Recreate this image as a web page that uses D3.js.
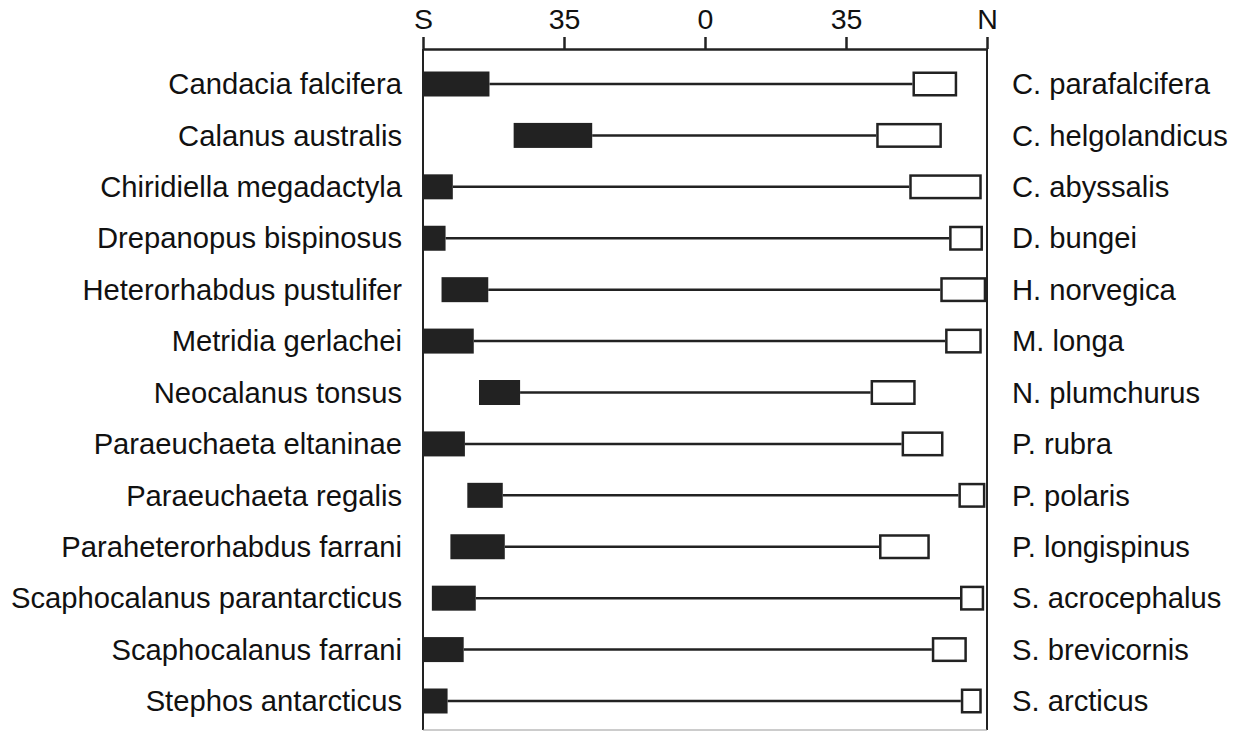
<!DOCTYPE html>
<html>
<head>
<meta charset="utf-8">
<script src="https://cdn.jsdelivr.net/npm/d3@7"></script>
<style>
  html, body { margin: 0; padding: 0; background: #fff; }
  svg { display: block; }
  text { font-family: Arial, "Liberation Sans", sans-serif; fill: #111; }
</style>
</head>
<body>
<svg id="chart" width="1236" height="731"></svg>
<script>
// ---- Data ----
const southSpecies = ["Candacia falcifera", "Calanus australis", "Chiridiella megadactyla", "Drepanopus bispinosus",
  "Heterorhabdus pustulifer", "Metridia gerlachei", "Neocalanus tonsus", "Paraeuchaeta eltaninae",
  "Paraeuchaeta regalis", "Paraheterorhabdus farrani", "Scaphocalanus parantarcticus", "Scaphocalanus farrani",
  "Stephos antarcticus"];
const northSpecies = ["C. parafalcifera", "C. helgolandicus", "C. abyssalis", "D. bungei", "H. norvegica", "M. longa",
  "N. plumchurus", "P. rubra", "P. polaris", "P. longispinus", "S. acrocephalus", "S. brevicornis", "S. arcticus"];
const southStart = [-70, -47.5, -70, -70, -65.4, -70, -56.1, -70, -59.0, -63.2, -67.8, -70, -70];
const southEnd   = [-53.5, -28.0, -62.6, -64.4, -53.8, -57.4, -45.9, -59.6, -50.2, -49.7, -56.9, -59.9, -63.9];
const northStart = [51.5, 42.5, 50.7, 60.6, 58.4, 59.6, 41.1, 48.8, 62.9, 43.2, 63.3, 56.3, 63.5];
const northEnd   = [62.6, 58.8, 68.7, 69.0, 69.8, 68.7, 52.3, 59.2, 69.6, 55.8, 69.3, 65.0, 68.7];
const tickValues = [-70, -35, 0, 35, 70];
const tickLabels = ["S", "35", "0", "35", "N"];

const rows = southSpecies.map((s, i) => ({
  south: s, north: northSpecies[i],
  s0: southStart[i], s1: southEnd[i], n0: northStart[i], n1: northEnd[i]
}));

// ---- Layout ----
const svg = d3.select("#chart");
const dark = "#222";
const axisY = 49;
const bottomY = 730;
const x = d3.scaleLinear().domain([-70, 70]).range([423, 987]);
const y = d3.scalePoint().domain(southSpecies).range([84, 701]);
const barH = 25;

// frame sides
svg.append("line").attr("x1", x(-70)).attr("x2", x(-70)).attr("y1", axisY).attr("y2", bottomY)
  .attr("stroke", dark).attr("stroke-width", 2);
svg.append("line").attr("x1", x(70)).attr("x2", x(70)).attr("y1", axisY).attr("y2", bottomY)
  .attr("stroke", dark).attr("stroke-width", 2);
svg.append("line").attr("x1", x(-70)).attr("x2", x(70)).attr("y1", bottomY).attr("y2", bottomY)
  .attr("stroke", "#999").attr("stroke-width", 1);

// top axis
const axis = d3.axisTop(x).tickValues(tickValues)
  .tickFormat((d, i) => tickLabels[i]).tickSize(12).tickSizeOuter(0).tickPadding(8);
const gA = svg.append("g").attr("transform", `translate(0,${axisY})`).call(axis);
gA.select(".domain").attr("stroke", dark).attr("stroke-width", 2.5);
gA.selectAll(".tick line").attr("stroke", dark).attr("stroke-width", 2.5);
gA.selectAll(".tick text").attr("font-size", 28.5).attr("fill", "#111")
  .attr("font-family", "Arial, 'Liberation Sans', sans-serif");

// rows
const g = svg.append("g");
const row = g.selectAll("g.row").data(rows).join("g").attr("class", "row")
  .attr("transform", d => `translate(0,${y(d.south)})`);

row.append("line")
  .attr("x1", d => x(d.s1)).attr("x2", d => x(d.n0))
  .attr("y1", 0).attr("y2", 0)
  .attr("stroke", dark).attr("stroke-width", 2.5);

row.append("rect")
  .attr("x", d => x(d.s0)).attr("width", d => x(d.s1) - x(d.s0))
  .attr("y", -barH / 2).attr("height", barH)
  .attr("fill", dark);

row.append("rect")
  .attr("x", d => x(d.n0) + 1.25).attr("width", d => x(d.n1) - x(d.n0) - 2.5)
  .attr("y", -barH / 2 + 1.25).attr("height", barH - 2.5)
  .attr("fill", "#fff").attr("stroke", dark).attr("stroke-width", 2.5);

row.append("text")
  .attr("x", 402).attr("y", 0).attr("dy", "0.35em")
  .attr("text-anchor", "end").attr("font-size", 29.2)
  .text(d => d.south);

row.append("text")
  .attr("x", 1012).attr("y", 0).attr("dy", "0.35em")
  .attr("text-anchor", "start").attr("font-size", 29.2)
  .text(d => d.north);
</script>
</body>
</html>
